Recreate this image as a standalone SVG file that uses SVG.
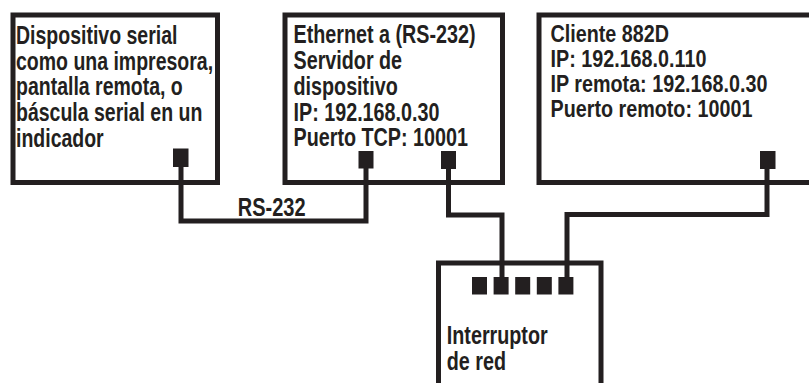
<svg xmlns="http://www.w3.org/2000/svg" width="809" height="383" viewBox="0 0 809 383">
<style>
.box{fill:#fff;stroke:#231f20;stroke-width:5}
.port{fill:#231f20}
.wire{fill:none;stroke:#231f20;stroke-width:5;stroke-linejoin:miter}
.t{font-family:"Liberation Sans",Arial,sans-serif;font-weight:bold;font-size:25px;fill:#231f20}
.t24{font-size:24px}
</style>
<rect width="809" height="383" fill="#fff"/>
<g id="serial-device">
<rect class="box" x="13" y="15" width="204.5" height="167.5"/>
<rect class="port" x="173" y="148.5" width="15.5" height="18.5"/>
<text class="t" transform="translate(16,0) scale(0.78,1)"><tspan x="0" y="44">Dispositivo serial</tspan><tspan x="0" y="69.7">como una impresora,</tspan><tspan x="0" y="95.4">pantalla remota, o</tspan><tspan x="0" y="121.1">báscula serial en un</tspan><tspan x="0" y="146.8">indicador</tspan></text>
</g>
<g id="device-server">
<rect class="box" x="285" y="15" width="217.5" height="167.5"/>
<rect class="port" x="358.5" y="151" width="15" height="17.5"/>
<rect class="port" x="441" y="151" width="15" height="18"/>
<text class="t" transform="translate(293.5,0) scale(0.79,1)"><tspan x="0" y="43.5">Ethernet a (RS-232)</tspan><tspan x="0" y="69.2">Servidor de</tspan><tspan x="0" y="94.9">dispositivo</tspan><tspan x="0" y="120.6">IP: 192.168.0.30</tspan><tspan x="0" y="146.3">Puerto TCP: 10001</tspan></text>
</g>
<g id="client">
<rect class="box" x="539" y="15" width="290" height="167.5"/>
<rect class="port" x="760" y="151" width="15.5" height="18"/>
<text class="t t24" transform="translate(550.5,0) scale(0.823,1)"><tspan x="0" y="42.5">Cliente 882D</tspan><tspan x="0" y="67.3">IP: 192.168.0.110</tspan><tspan x="0" y="92.1">IP remota: 192.168.0.30</tspan><tspan x="0" y="116.9">Puerto remoto: 10001</tspan></text>
</g>
<g id="switch">
<rect class="box" x="438.5" y="263" width="162.5" height="140"/>
<rect class="port" x="472" y="277" width="15" height="17.5"/>
<rect class="port" x="493.6" y="277" width="15" height="17.5"/>
<rect class="port" x="515.2" y="277" width="15" height="17.5"/>
<rect class="port" x="536.8" y="277" width="15" height="17.5"/>
<rect class="port" x="558.4" y="277" width="15" height="17.5"/>
<text class="t" transform="translate(446.8,0) scale(0.79,1)"><tspan x="0" y="344">Interruptor</tspan><tspan x="0" y="370.5">de red</tspan></text>
</g>
<g id="connectors">
<path class="wire" d="M181,166 V221 H366 V168"/>
<path class="wire" d="M448.5,168 V215 H502 V280"/>
<path class="wire" d="M767,168 V214.5 H567 V280"/>
<text class="t" x="0" y="216" text-anchor="middle" transform="translate(271.7,0) scale(0.8,1)">RS-232</text>
</g>
</svg>
